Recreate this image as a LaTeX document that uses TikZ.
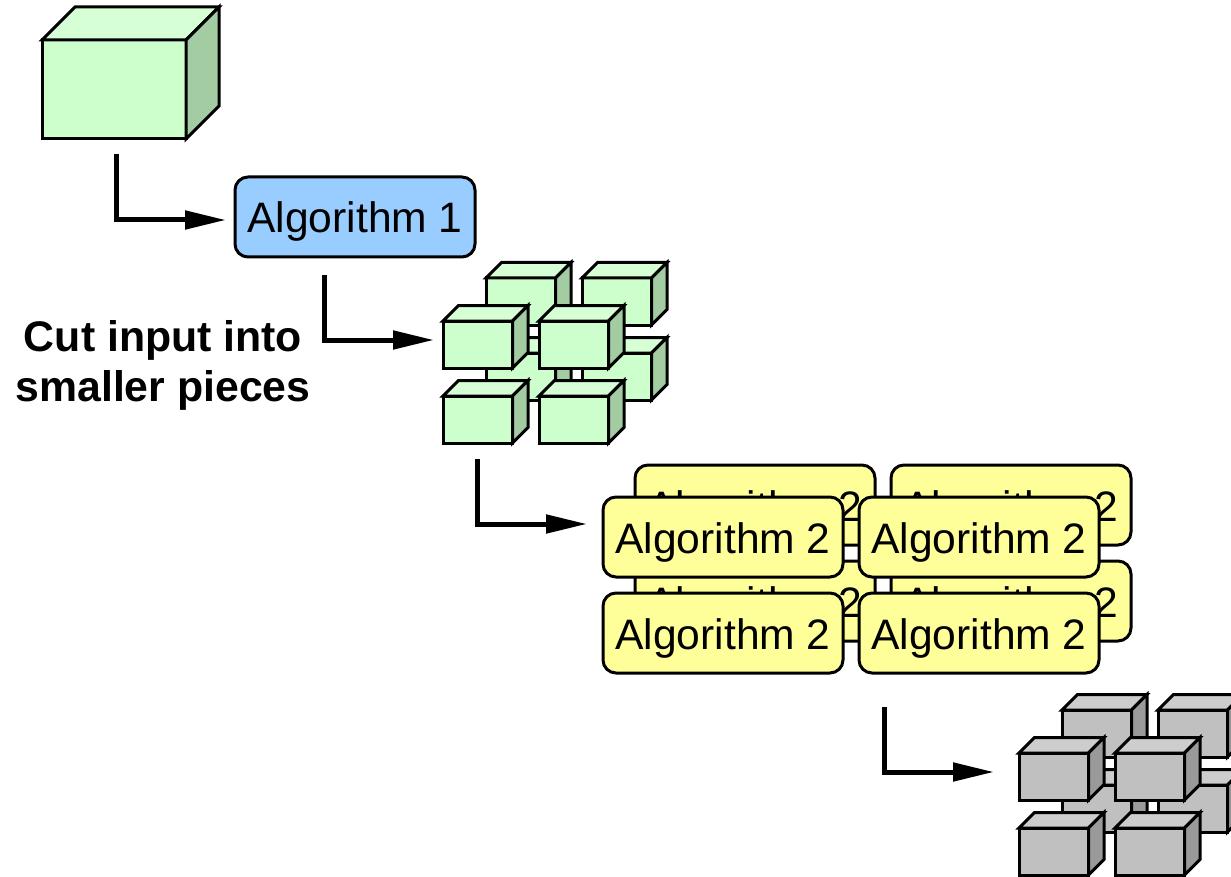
\documentclass[tikz,border=0pt]{standalone}
\usepackage{fontspec}
\setmainfont{Liberation Sans}
\usepackage{tikz}
\usetikzlibrary{positioning,arrows.meta}

\definecolor{cubegreen}{HTML}{CCFFCC}
\definecolor{cubegreentop}{HTML}{D6FFD6}
\definecolor{cubegreenside}{HTML}{A3CCA3}
\definecolor{cubegrey}{HTML}{C0C0C0}
\definecolor{cubegreytop}{HTML}{CDCDCD}
\definecolor{cubegreyside}{HTML}{9A9A9A}
\definecolor{algblue}{HTML}{99CCFF}
\definecolor{algyellow}{HTML}{FFFF99}

\tikzset{
    face/.style={draw=black,line width=3pt,line join=miter},
    algbox/.style={draw=black,line width=3pt,rounded corners=13pt,minimum width=240pt,minimum height=80pt,
        inner sep=0pt,text height=32pt,text depth=0pt,font=\fontsize{42.6}{50}\selectfont},
    elbow/.style={line width=5pt,line join=miter,-{Triangle[length=41pt,width=18pt]}},
    pics/boxcube/.style n args={6}{code={
        \draw[face,fill=#4] (0,0) rectangle (#1,#2);
        \draw[face,fill=#5] (0,0) -- (#3,-#3) -- (#1+#3,-#3) -- (#1,0) -- cycle;
        \draw[face,fill=#6] (#1,0) -- (#1+#3,-#3) -- (#1+#3,#2-#3) -- (#1,#2) -- cycle;
    }},
    pics/cubegrid/.style n args={3}{code={
        \foreach \cx/\cy in {43/-43,139/-43,43/32,139/32,0/0,96/0,0/75,96/75}
            \pic at (\cx,\cy) {boxcube={69.5}{47}{15.5}{#1}{#2}{#3}};
    }}
}

\begin{document}
\begin{tikzpicture}[x=1pt,y=-1pt]
    \clip (0,0) rectangle (1231,877);

    \pic at (42,40) {boxcube={144}{99}{33}{cubegreen}{cubegreentop}{cubegreenside}};
    \node[algbox,fill=algblue] (algone) at (355,217) {Algorithm 1};
    \pic at (443,321) {cubegrid={cubegreen}{cubegreentop}{cubegreenside}};

    \node[font=\fontsize{42.8}{50}\selectfont\bfseries,align=center] (cutlabel) at (163,365) {Cut input into\\smaller pieces};

    % back row first, the front row hides most of its text
    \foreach \nx/\bx/\by in {a/755/505,b/1011/505,c/755/601,d/1011/601}
        \node[algbox,fill=algyellow] (back\nx) at (\bx,\by) {Algorithm 2};
    \foreach \nx/\bx/\by in {a/723/537,b/979/537,c/723/633,d/979/633}
        \node[algbox,fill=algyellow] (front\nx) at (\bx,\by) {Algorithm 2};

    \pic at (1019,753) {cubegrid={cubegrey}{cubegreytop}{cubegreyside}};

    \coordinate (startone) at (116,154);
    \coordinate (tipone) at (226,220);
    \coordinate (starttwo) at (324,275);
    \coordinate (tiptwo) at (434,340);
    \coordinate (startthree) at (477,459);
    \coordinate (tipthree) at (587,524);
    \coordinate (startfour) at (884,707);
    \coordinate (tipfour) at (994,772);

    \draw[elbow] (startone) |- (tipone);
    \draw[elbow] (starttwo) |- (tiptwo);
    \draw[elbow] (startthree) |- (tipthree);
    \draw[elbow] (startfour) |- (tipfour);
\end{tikzpicture}
\end{document}
